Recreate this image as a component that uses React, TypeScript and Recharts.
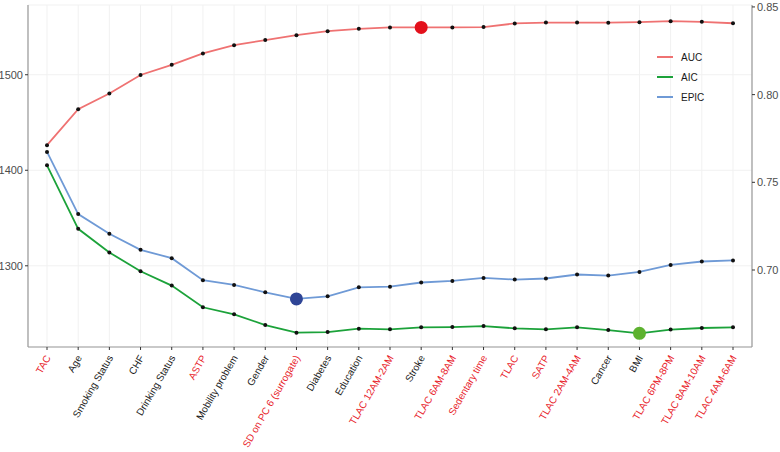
import { LineChart, Line, XAxis, YAxis, CartesianGrid } from "recharts";

const categories = [
  "TAC", "Age", "Smoking Status", "CHF", "Drinking Status", "ASTP",
  "Mobility problem", "Gender", "SD on PC 6 (surrogate)", "Diabetes",
  "Education", "TLAC 12AM-2AM", "Stroke", "TLAC 6AM-8AM", "Sedentary time",
  "TLAC", "SATP", "TLAC 2AM-4AM", "Cancer", "BMI", "TLAC 6PM-8PM",
  "TLAC 8AM-10AM", "TLAC 4AM-6AM",
];

// labels drawn in red on the x axis
const redLabels = [
  "TAC", "ASTP", "SD on PC 6 (surrogate)", "TLAC 12AM-2AM", "TLAC 6AM-8AM",
  "Sedentary time", "TLAC", "SATP", "TLAC 2AM-4AM", "TLAC 6PM-8PM",
  "TLAC 8AM-10AM", "TLAC 4AM-6AM",
];

const aucValues = [
  0.7712, 0.7917, 0.8006, 0.8112, 0.817, 0.8235, 0.8282, 0.8311, 0.8339,
  0.8362, 0.8375, 0.8383, 0.8383, 0.8383, 0.8385, 0.8406, 0.8411, 0.8411,
  0.841, 0.8413, 0.8419, 0.8415, 0.8407,
];

const aicValues = [
  1405.2, 1338.7, 1314, 1294.3, 1279.3, 1256.6, 1249.2, 1238, 1230, 1230.6,
  1234.2, 1233.5, 1235.6, 1235.9, 1236.9, 1234.5, 1233.5, 1235.6, 1232.7,
  1229.3, 1233.2, 1234.9, 1235.6,
];

const epicValues = [
  1419.2, 1354.1, 1333.5, 1316.7, 1308, 1284.9, 1280, 1272.3, 1265.3, 1268.1,
  1277.5, 1278.1, 1282.5, 1284.2, 1287.3, 1285.6, 1286.7, 1290.9, 1289.8,
  1293.6, 1300.9, 1304.5, 1305.6,
];

const leftTicks = [1300, 1400, 1500];
const rightTicks = [0.7, 0.75, 0.8, 0.85];

// which point of each series gets the big marker
const AUC_BEST = "Stroke";
const EPIC_BEST = "SD on PC 6 (surrogate)";
const AIC_BEST = "BMI";

const data = categories.map((name, i) => ({
  name,
  AUC: aucValues[i],
  AIC: aicValues[i],
  EPIC: epicValues[i],
}));

const FONT = "'Liberation Sans', Arial, sans-serif";
const AXIS = "#9a9a9a";

const series = [
  { key: "AUC", color: "#ef7272", axis: "right", best: AUC_BEST, bigColor: "#e3101b" },
  { key: "AIC", color: "#1ca23a", axis: "left", best: AIC_BEST, bigColor: "#5db22f" },
  { key: "EPIC", color: "#6f9ad6", axis: "left", best: EPIC_BEST, bigColor: "#2f4596" },
];

const makeDot = (best: string, bigColor: string) => (props: any) => {
  const { cx, cy, payload, index } = props;
  if (payload.name === best) {
    return <circle key={index} cx={cx} cy={cy} r={6.5} fill={bigColor} stroke="none" />;
  }
  return <circle key={index} cx={cx} cy={cy} r={2} fill="#111" stroke="none" />;
};

const XTick = ({ x, y, payload }: any) => {
  const red = redLabels.includes(payload.value);
  const tx = x + 1;
  const ty = y + 4;
  return (
    <text
      x={tx}
      y={ty}
      transform={`rotate(-60, ${tx}, ${ty})`}
      textAnchor="end"
      dy="0.35em"
      fontSize={10}
      fontFamily={FONT}
      fill={red ? "#e8232b" : "#1a1a1a"}
    >
      {payload.value}
    </text>
  );
};

// legend sits inside the panel, top right
const LegendBox = () => (
  <div
    style={{
      position: "absolute",
      left: 657,
      top: 47,
      fontFamily: FONT,
      fontSize: 10,
      color: "#1a1a1a",
    }}
  >
    {series.map((s) => (
      <div key={s.key} style={{ display: "flex", alignItems: "center", height: 20 }}>
        <svg width={16} height={4} style={{ marginRight: 8 }}>
          <line x1={0} y1={2} x2={16} y2={2} stroke={s.color} strokeWidth={2} />
        </svg>
        <span>{s.key}</span>
      </div>
    ))}
  </div>
);

export default function App() {
  return (
    <div style={{ position: "absolute", left: 0, top: 0, width: 780, height: 452, background: "#fff" }}>
      <LineChart
        width={780}
        height={452}
        data={data}
        margin={{ top: 5, right: 0, left: 0, bottom: 0 }}
      >
        <CartesianGrid stroke="#f1f1f1" yAxisId="left" />
        <XAxis
          dataKey="name"
          interval={0}
          height={105}
          padding={{ left: 19, right: 19 }}
          tick={<XTick />}
          tickSize={3}
          axisLine={{ stroke: AXIS, strokeWidth: 1.2 }}
          tickLine={{ stroke: "#333" }}
        />
        <XAxis
          xAxisId="top"
          orientation="top"
          dataKey="name"
          height={0}
          tick={false}
          tickLine={false}
          padding={{ left: 19, right: 19 }}
          axisLine={{ stroke: AXIS, strokeWidth: 1.2 }}
        />
        <YAxis
          yAxisId="left"
          width={28}
          domain={[1215, 1573]}
          ticks={leftTicks}
          allowDataOverflow
          tickSize={3}
          tick={{ fontSize: 11, fill: "#4d4d4d", fontFamily: FONT }}
          axisLine={{ stroke: AXIS, strokeWidth: 1.2 }}
          tickLine={{ stroke: "#333" }}
        />
        <YAxis
          yAxisId="right"
          orientation="right"
          width={28}
          domain={[0.6561, 0.8511]}
          ticks={rightTicks}
          allowDataOverflow
          tickFormatter={(v: number) => v.toFixed(2)}
          tickSize={3}
          tick={{ fontSize: 11, fill: "#4d4d4d", fontFamily: FONT, textAnchor: "start" }}
          axisLine={{ stroke: AXIS, strokeWidth: 1.2 }}
          tickLine={{ stroke: "#333" }}
        />
        {series.map((s) => (
          <Line
            key={s.key}
            yAxisId={s.axis}
            dataKey={s.key}
            type="linear"
            stroke={s.color}
            strokeWidth={1.8}
            dot={makeDot(s.best, s.bigColor)}
            activeDot={false}
            isAnimationActive={false}
          />
        ))}
      </LineChart>
      <LegendBox />
    </div>
  );
}
